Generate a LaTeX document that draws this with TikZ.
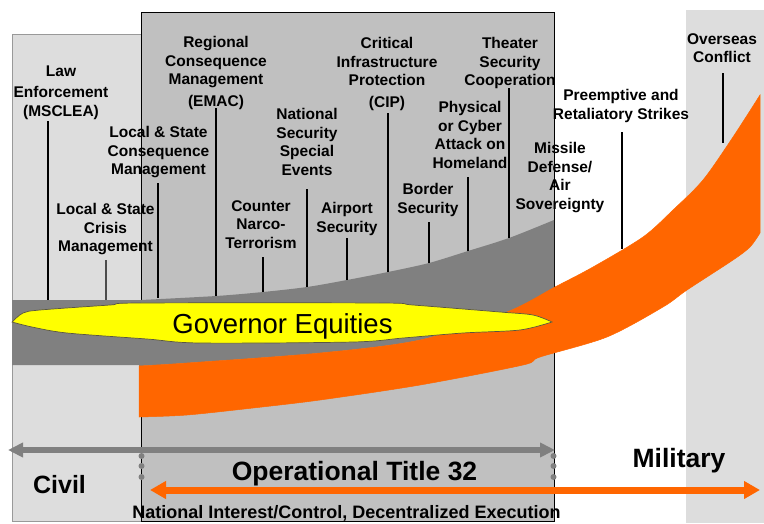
\documentclass[tikz,border=0pt]{standalone}
\usepackage{fontspec}
\setmainfont{Liberation Sans}
\usetikzlibrary{arrows.meta}
\definecolor{civbg}{HTML}{DDDDDD}
\definecolor{tbox}{HTML}{C0C0C0}
\definecolor{band}{HTML}{808080}
\definecolor{govy}{HTML}{FFFF00}
\definecolor{milo}{HTML}{FF6600}
\begin{document}
\begin{tikzpicture}[x=1pt,y=-1pt,
  lbl/.style={font=\fontsize{15.5}{18.7}\selectfont\bfseries, align=center, anchor=north, inner sep=0pt},
  lead/.style={line width=2pt, black},
  big/.style={font=\fontsize{26.5}{30}\selectfont\bfseries, anchor=base, inner sep=0pt},
  marker/.style={fill=band}]
\useasboundingbox (0,0) rectangle (764,523);
% backgrounds
\filldraw[fill=civbg, draw=gray!80, line width=0.8pt] (12,34) rectangle (141,521);
\fill[civbg] (686,10) rectangle (764,523);
\filldraw[fill=tbox, draw=black, line width=0.8pt] (141,12) rectangle (554,521);
% gray band
\fill[band] (12,300) -- (141,300)
  -- plot[smooth, tension=0.5] coordinates {(141,300) (216,296) (263,292) (307,287) (347,280) (388,272) (429,263) (468,251) (509,238) (554,220)}
  -- (554,288)
  -- plot[smooth, tension=0.5] coordinates {(554,288) (507,312) (420,340) (320,353) (187,363) (139,366)}
  -- (139,365) -- (12,365) -- cycle;
% orange band
\filldraw[fill=milo, draw=milo, line width=0.5pt]
  plot[smooth, tension=0.5] coordinates {(139,366) (187,363) (320,353) (420,340) (507,312) (555,287) (593,267) (643,237) (673,210) (703,180) (733,137) (760,95)}
  -- (760,233)
  -- plot[smooth, tension=0.5] coordinates {(760,233) (750,247) (733,260) (687,290) (663,307) (607,337) (540,357) (523,365) (420,385) (320,400) (253,408) (187,415) (139,417)}
  -- cycle;
% governor equities shape
\filldraw[fill=govy, draw=black!75!yellow, line width=0.7pt]
  plot[smooth, tension=0.5] coordinates {(12,322) (23,313) (40,310) (110,305) (140,303) (380,303) (413,305) (500,312) (533,315) (552,322)}
  -- plot[smooth, tension=0.5] coordinates {(552,322) (520,330) (463,333) (403,338) (353,342) (200,343) (147,339) (67,333) (32,327) (12,322)}
  -- cycle;
\node[font=\fontsize{27.5}{30}\selectfont, anchor=base, inner sep=0pt] (gov) at (282.5,333) {Governor Equities};
% labels
\node[lbl] (law) at (61,66) {Law\\[2pt]Enforcement\\(MSCLEA)};
\node[lbl] (lcrisis) at (105.5,203) {Local \& State\\Crisis\\Management};
\node[lbl] (lconseq) at (158.5,126) {Local \& State\\Consequence\\Management};
\node[lbl] (regional) at (216,36) {Regional\\Consequence\\Management\\[3pt](EMAC)};
\node[lbl] (counter) at (261,200) {Counter\\Narco-\\Terrorism};
\node[lbl] (nsse) at (307,108) {National\\Security\\Special\\Events};
\node[lbl] (airport) at (347,202) {Airport\\Security};
\node[lbl] (cip) at (387,37) {Critical\\Infrastructure\\Protection\\[3pt](CIP)};
\node[lbl] (border) at (428,183) {Border\\Security};
\node[lbl] (cyber) at (470,101) {Physical\\or Cyber\\Attack on\\Homeland};
\node[lbl] (theater) at (510,37) {Theater\\Security\\Cooperation};
\node[lbl] (missile) at (560,142) {Missile\\Defense/\\Air\\Sovereignty};
\node[lbl] (preempt) at (621,89) {Preemptive and\\Retaliatory Strikes};
\node[lbl] (overseas) at (722,33) {Overseas\\Conflict};
% leader lines
\coordinate (lawA) at (48,121); \coordinate (lawB) at (48,300);
\coordinate (lcrA) at (106,260); \coordinate (lcrB) at (106,300);
\coordinate (lcoA) at (158,183); \coordinate (lcoB) at (158,298);
\coordinate (regA) at (216,108); \coordinate (regB) at (216,296);
\coordinate (cntA) at (263,257); \coordinate (cntB) at (263,292);
\coordinate (nssA) at (307,189); \coordinate (nssB) at (307,287);
\coordinate (airA) at (347,238); \coordinate (airB) at (347,280);
\coordinate (cipA) at (388,113); \coordinate (cipB) at (388,272);
\coordinate (borA) at (429,222); \coordinate (borB) at (429,263);
\coordinate (cybA) at (468,177); \coordinate (cybB) at (468,251);
\coordinate (theA) at (509,88); \coordinate (theB) at (509,238);
\coordinate (preA) at (622,132); \coordinate (preB) at (622,249);
\coordinate (ovsA) at (723,73); \coordinate (ovsB) at (723,143);
\draw[lead] (lawA) -- (lawB);
\draw[line width=1.3pt, black!70] (lcrA) -- (lcrB);
\draw[lead] (lcoA) -- (lcoB);
\draw[lead] (regA) -- (regB);
\draw[lead] (cntA) -- (cntB);
\draw[lead] (nssA) -- (nssB);
\draw[lead] (airA) -- (airB);
\draw[lead] (cipA) -- (cipB);
\draw[lead] (borA) -- (borB);
\draw[lead] (cybA) -- (cybB);
\draw[lead] (theA) -- (theB);
\draw[lead] (preA) -- (preB);
\draw[lead] (ovsA) -- (ovsB);
% arrows
\coordinate (gL) at (8,450); \coordinate (gR) at (555,450);
\draw[line width=6pt, band, {Triangle[length=15pt,width=14pt]}-{Triangle[length=15pt,width=14pt]}] (gL) -- (gR);
\coordinate (oL) at (150,490); \coordinate (oR) at (760,490);
\draw[line width=7pt, milo, {Triangle[length=16pt,width=17pt]}-{Triangle[length=16pt,width=17pt]}] (oL) -- (oR);
% markers
\foreach \yy in {456,466,477} {
  \fill[marker] (141.5,\yy) circle (3pt);
  \fill[marker] (553.5,\yy) circle (3pt);
}
% bottom texts
\node[big, font=\fontsize{25}{30}\selectfont\bfseries] (civil) at (59.5,493) {Civil};
\node[big] (t32) at (354.5,480) {Operational Title 32};
\node[big] (mil) at (679,467) {Military};
\node[font=\fontsize{18}{20}\selectfont\bfseries, anchor=base, inner sep=0pt] (natint) at (346.5,518.5) {National Interest/Control, Decentralized Execution};
\end{tikzpicture}
\end{document}
